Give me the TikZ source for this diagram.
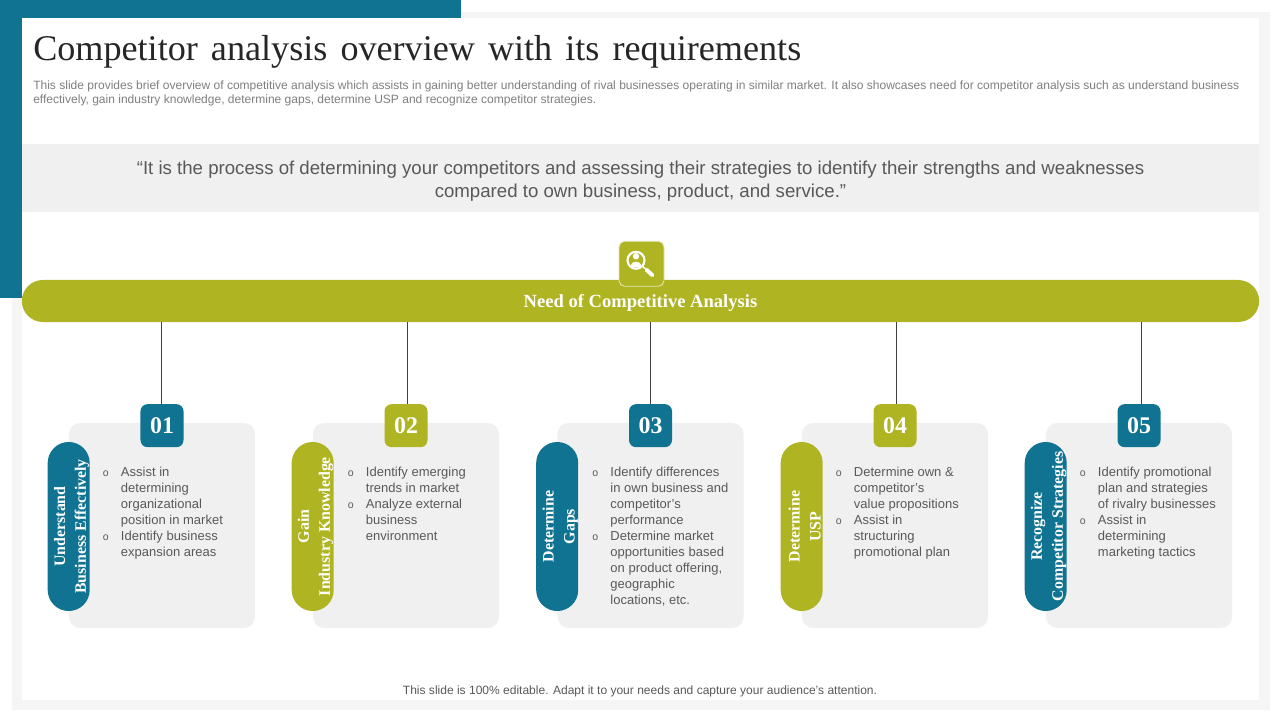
\documentclass[tikz,border=0pt]{standalone}
\usepackage{fontspec}
\setmainfont{Liberation Sans}
\newfontfamily\serifa{Liberation Serif}
\usetikzlibrary{positioning,calc}
\definecolor{azul}{RGB}{15,115,145}
\definecolor{oliva}{RGB}{175,180,35}
\definecolor{grisclaro}{RGB}{240,240,240}
\definecolor{sombra}{RGB}{245,245,245}
\definecolor{gristexto}{RGB}{89,89,89}
\definecolor{grissub}{RGB}{127,127,127}
\definecolor{titulo}{RGB}{38,38,38}
\tikzset{
  tarjeta/.style={fill=grisclaro,rounded corners=8pt,minimum width=4.65cm,minimum height=5.125cm,inner sep=0pt},
  insignia/.style={fill=#1,rounded corners=5pt,minimum width=1.075cm,minimum height=1.075cm,inner sep=0pt,
                   text=white,font=\serifa\bfseries\fontsize{17}{20}\selectfont},
  pastilla/.style={fill=#1,rounded corners=0.525cm,minimum width=4.225cm,minimum height=1.05cm,inner sep=0pt},
  rotulo/.style={inner sep=0pt,text=white,align=center,rotate=90,font=\serifa\bfseries\fontsize{11.3}{14.9}\selectfont},
  lista/.style={anchor=north west,inner sep=0pt,text=gristexto,font=\fontsize{9.25}{11.4}\selectfont},
  conector/.style={draw=black!75,line width=0.5pt},
}
\newcommand{\vin}{{\fontsize{7.5}{8}\selectfont o}}
\newenvironment{vinetas}{\begin{tabular}{@{}p{0.45cm}@{}l@{}}}{\end{tabular}}
\begin{document}
\begin{tikzpicture}[x=0.025cm,y=-0.025cm]
    \useasboundingbox (0,0) rectangle (1280,720);
    \fill[white] (0,0) rectangle (1280,720);
    \fill[sombra] (12,12) rectangle (1270,710);
    \fill[azul] (0,0) rectangle (461,298);
    \fill[white] (22,18) rectangle (1259,700);
    % cabecera
    \node[anchor=west,inner sep=0pt,text=titulo,font=\serifa\fontsize{25.7}{30}\selectfont] (tit) at (33,52)
      {\spaceskip=9.3pt Competitor analysis overview with its requirements};
    \node[anchor=north west,inner sep=0pt,align=left,text=grissub,font=\fontsize{8.55}{9.9}\selectfont] (sub) at (33,80.5)
      {This slide provides brief overview of competitive analysis which assists in gaining better understanding of rival businesses operating in similar market. It also showcases need for competitor analysis such as understand business\\
       effectively,  gain industry knowledge, determine gaps, determine USP and recognize competitor strategies.};
    \node[fill=grisclaro,minimum width=30.925cm,minimum height=1.7cm,inner sep=0pt] (cita) at (640.5,178) {};
    \node[inner sep=0pt,align=center,text=gristexto,font=\fontsize{13.26}{16.3}\selectfont] (citatexto) at ([yshift=-0.075cm]cita.center)
      {“It is the process of determining your competitors and assessing their strategies to identify their strengths and weaknesses\\
       compared to own business, product, and service.”};
    % barra
    \node[fill=oliva,rounded corners=0.525cm,minimum width=30.925cm,minimum height=1.05cm,inner sep=0pt] (barra) at (640.5,301) {};
    \node[inner sep=0pt,text=white,font=\serifa\bfseries\fontsize{13.2}{15}\selectfont] (barratexto) at ([yshift=-0.05cm]barra.center) {Need of Competitive Analysis};
    \node[fill=oliva,draw=white!65!oliva,line width=0.6pt,rounded corners=4pt,minimum size=1.125cm,inner sep=0pt,above=-0.175cm of barra,xshift=0.025cm] (icono) {};
    \begin{scope}[shift={(icono.center)}]
      \fill[white] (-5.5,-7.5) circle (3.2);
      \fill[white] (-11,2) .. controls (-10,-3.5) and (-1,-3.5) .. (0,2) .. controls (-3,4.5) and (-8,4.5) .. (-11,2) -- cycle;
      \draw[white,line width=1.5pt] (-5.5,-3.5) circle (8.5);
      \draw[white,line width=1pt] (1,2.5) -- (5,6);
      \draw[white,line width=2.8pt,line cap=round] (5,6) -- (11,11.5);
    \end{scope}
    % tarjetas
    \foreach \i/\x/\col/\d/\uno/\dos in {1/162/azul/-0.7/Understand/Business Effectively,
        2/406/oliva/1/Gain/Industry Knowledge,
        3/650.5/azul/0/Determine/Gaps,
        4/895/oliva/1.5/Determine/USP,
        5/1139/azul/2/Recognize/Competitor Strategies}{
      \node[tarjeta] (tarjeta\i) at (\x,525.5) {};
      \node[insignia=\col] (insignia\i) at ([yshift=-0.075cm]tarjeta\i.north) {0\i};
      \node[pastilla=\col,rotate=90] (pastilla\i) at ([yshift=-0.025cm]tarjeta\i.west) {};
      \node[rotulo] (rotulo\i) at ([xshift=0.075cm]pastilla\i.center) {\uno\\\dos};
      \draw[conector] ($(insignia\i.north |- barra.south)+(\d,0)$) -- ($(insignia\i.north)+(\d,0)$);
    }
    % listas
    \node[lista] (lista1) at ([shift={(34,42)}]tarjeta1.north west) {\begin{vinetas}
      \vin & Assist in\\ & determining\\ & organizational\\ & position in market\\
      \vin & Identify business\\ & expansion areas\end{vinetas}};
    \node[lista] (lista2) at ([shift={(35,42)}]tarjeta2.north west) {\begin{vinetas}
      \vin & Identify emerging\\ & trends in market\\
      \vin & Analyze external\\ & business\\ & environment\end{vinetas}};
    \node[lista] (lista3) at ([shift={(35,42)}]tarjeta3.north west) {\begin{vinetas}
      \vin & Identify differences\\ & in own business and\\ & competitor’s\\ & performance\\
      \vin & Determine market\\ & opportunities based\\ & on product offering,\\ & geographic\\ & locations, etc.\end{vinetas}};
    \node[lista] (lista4) at ([shift={(34,42)}]tarjeta4.north west) {\begin{vinetas}
      \vin & Determine own \&\\ & competitor’s\\ & value propositions\\
      \vin & Assist in\\ & structuring\\ & promotional plan\end{vinetas}};
    \node[lista] (lista5) at ([shift={(34,42)}]tarjeta5.north west) {\begin{vinetas}
      \vin & Identify promotional\\ & plan and strategies\\ & of rivalry businesses\\
      \vin & Assist in\\ & determining\\ & marketing tactics\end{vinetas}};
    \node[inner sep=0pt,text=gristexto,font=\fontsize{8.55}{10}\selectfont] (pie) at (640,691)
      {This slide is 100\% editable. Adapt it to your needs and capture your audience’s attention.};
\end{tikzpicture}
\end{document}
